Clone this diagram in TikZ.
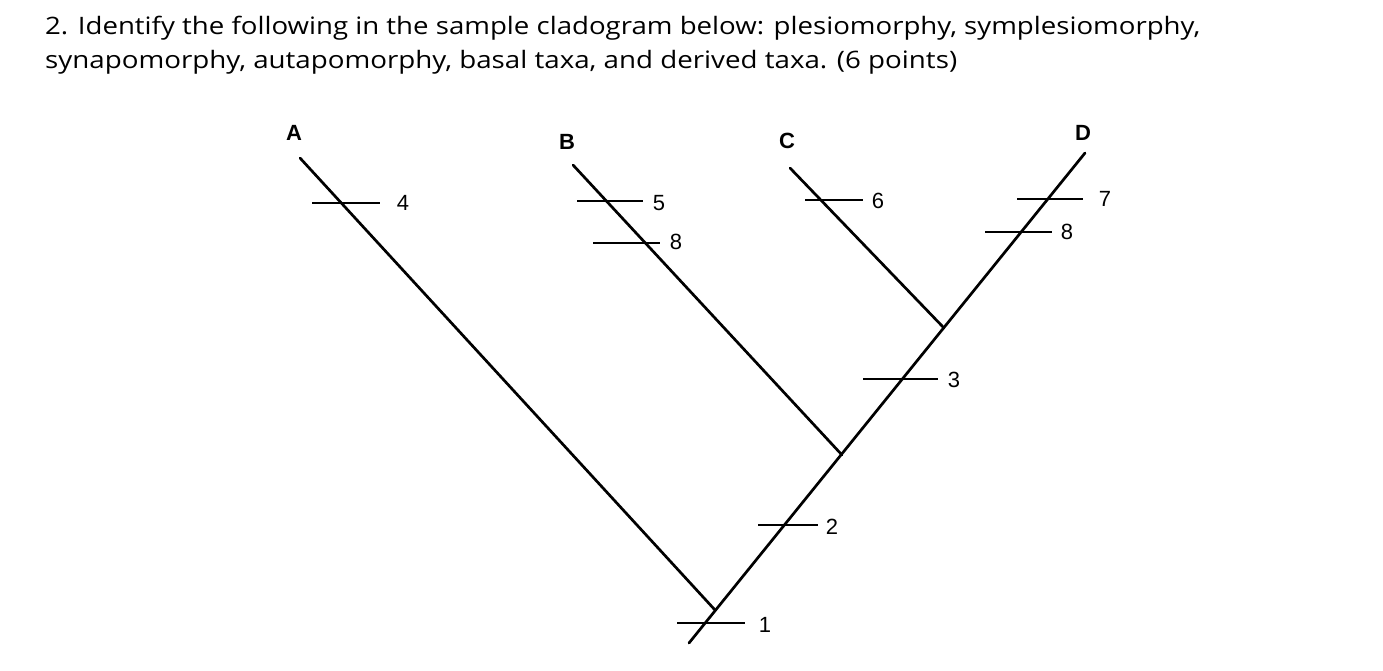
\documentclass[tikz,border=0pt]{standalone}
\usepackage{fontspec}
\usepackage{graphicx}
\setmainfont{Liberation Sans}
\newfontfamily\titlefont{Open Sans}
\begin{document}
\begin{tikzpicture}[x=1pt,y=-1pt,
  branch/.style={line width=2.7pt, line cap=round},
  tick/.style={line width=2.5pt},
  taxon/.style={font=\fontsize{22}{24}\selectfont\bfseries, inner sep=0pt},
  charlab/.style={font=\fontsize{22}{24}\selectfont, inner sep=0pt},
  titleline/.style={font=\titlefont\fontsize{24}{30}\selectfont, anchor=base west, inner sep=0pt}]
\useasboundingbox (0,0) rectangle (1383,670);
% title
\node[titleline] (t1) at (45,34) {\resizebox{1155pt}{\height}{2. Identify the following in the sample cladogram below: plesiomorphy, symplesiomorphy,}};
\node[titleline] (t2) at (45,68) {\resizebox{912pt}{\height}{synapomorphy, autapomorphy, basal taxa, and derived taxa. (6 points)}};
% tree coordinates
\coordinate (root) at (689,643);
\coordinate (j1) at (715,610);
\coordinate (j2) at (842,455);
\coordinate (j3) at (944,328);
\coordinate (Dtip) at (1085,153);
\coordinate (Atip) at (300,158);
\coordinate (Btip) at (573,165);
\coordinate (Ctip) at (790,168);
% taxa labels
\node[taxon] (A) at (294,133) {A};
\node[taxon] (B) at (567,142) {B};
\node[taxon] (C) at (787,141) {C};
\node[taxon] (D) at (1083,133) {D};
% branches
\draw[branch] (root) -- (Dtip);
\draw[branch] (Atip) -- (j1);
\draw[branch] (Btip) -- (j2);
\draw[branch] (Ctip) -- (j3);
% character ticks
\coordinate (t4a) at (312,203); \coordinate (t4b) at (380,203);
\coordinate (t5a) at (577,201); \coordinate (t5b) at (643,201);
\coordinate (t8Ba) at (593,243); \coordinate (t8Bb) at (660,243);
\coordinate (t6a) at (805,200); \coordinate (t6b) at (863,200);
\coordinate (t7a) at (1017,199); \coordinate (t7b) at (1083,199);
\coordinate (t8Da) at (985,232); \coordinate (t8Db) at (1052,232);
\coordinate (t3a) at (863,379); \coordinate (t3b) at (938,379);
\coordinate (t2a) at (758,525); \coordinate (t2b) at (818,525);
\coordinate (t1a) at (677,623); \coordinate (t1b) at (745,623);
\foreach \t in {4,5,8B,6,7,8D,3,2,1} \draw[tick] (t\t a) -- (t\t b);
% character labels
\node[charlab] (c4) at (403,203) {4};
\node[charlab] (c5) at (659,203) {5};
\node[charlab] (c8B) at (676,242) {8};
\node[charlab] (c6) at (878,201) {6};
\node[charlab] (c7) at (1105,199) {7};
\node[charlab] (c8D) at (1067,232) {8};
\node[charlab] (c3) at (954,380) {3};
\node[charlab] (c2) at (832,527) {2};
\node[charlab] (c1) at (765,625) {1};
\end{tikzpicture}
\end{document}
